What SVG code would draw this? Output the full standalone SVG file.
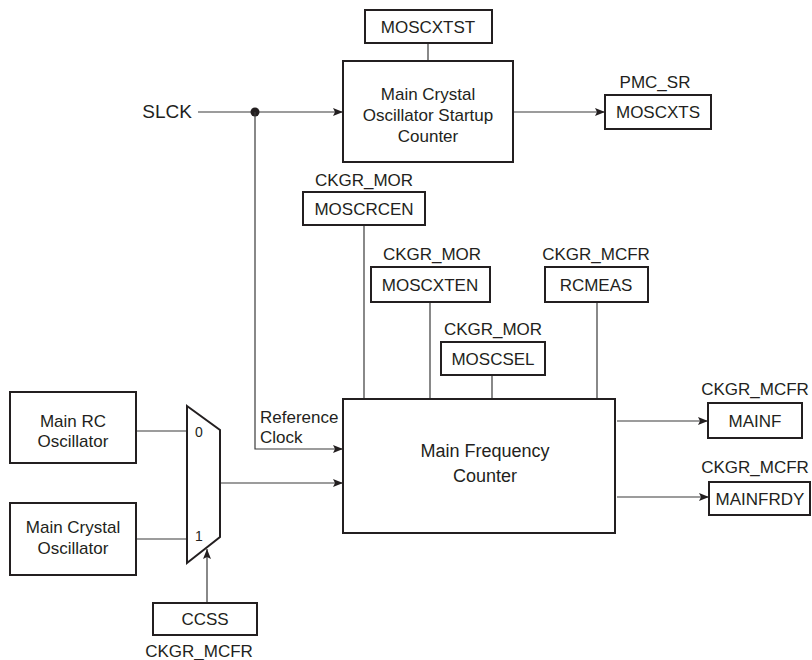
<svg xmlns="http://www.w3.org/2000/svg" width="812" height="660" viewBox="0 0 812 660">
<style>
text{font-family:"Liberation Sans",Arial,sans-serif;font-size:17px;fill:#231f20}
.c{text-anchor:middle}
.box{fill:#fff;stroke:#231f20;stroke-width:2}
.ln{fill:none;stroke:#3a3a3a;stroke-width:1.2}
</style>
<defs>
<marker id="ah" viewBox="0 0 10 8" refX="10" refY="4" markerWidth="10" markerHeight="8" markerUnits="userSpaceOnUse" orient="auto">
<path d="M0,0 L10,4 L0,8 L2,4 Z" fill="#231f20"/>
</marker>
</defs>
<rect width="812" height="660" fill="#fff"/>
<g id="connectors">
<line class="ln" x1="198" y1="112" x2="343" y2="112" marker-end="url(#ah)"/>
<circle cx="255" cy="112" r="4.5" fill="#231f20"/>
<polyline class="ln" points="255,112 255,449 343,449" marker-end="url(#ah)"/>
<line class="ln" x1="428" y1="43" x2="428" y2="61"/>
<line class="ln" x1="513" y1="112" x2="605" y2="112" marker-end="url(#ah)"/>
<line class="ln" x1="364" y1="225" x2="364" y2="399"/>
<line class="ln" x1="430" y1="302" x2="430" y2="399"/>
<line class="ln" x1="492" y1="375" x2="492" y2="399"/>
<line class="ln" x1="597" y1="302" x2="597" y2="399"/>
<line class="ln" x1="617" y1="421" x2="708" y2="421" marker-end="url(#ah)"/>
<line class="ln" x1="617" y1="497" x2="709" y2="497" marker-end="url(#ah)"/>
<line class="ln" x1="136" y1="431" x2="187" y2="431"/>
<line class="ln" x1="136" y1="539" x2="187" y2="539"/>
<line class="ln" x1="220" y1="483" x2="343" y2="483" marker-end="url(#ah)"/>
<line class="ln" x1="207" y1="603" x2="207" y2="549" marker-end="url(#ah)"/>
</g>
<g id="slck"><text x="192" y="118" style="font-size:19px;text-anchor:end">SLCK</text></g>
<g id="moscxtst"><rect class="box" x="365" y="10" width="127" height="33"/><text class="c" x="428" y="33">MOSCXTST</text></g>
<g id="startup"><rect class="box" x="343" y="61" width="170" height="101"/>
<text class="c" x="428" y="100">Main Crystal</text><text class="c" x="428" y="121">Oscillator Startup</text><text class="c" x="428" y="142">Counter</text></g>
<g id="moscxts"><text class="c" x="655" y="88">PMC_SR</text><rect class="box" x="605" y="95" width="106" height="34"/><text class="c" x="658" y="118">MOSCXTS</text></g>
<g id="moscrcen"><text class="c" x="364" y="186">CKGR_MOR</text><rect class="box" x="303" y="192" width="122" height="33"/><text class="c" x="364" y="215">MOSCRCEN</text></g>
<g id="moscxten"><text class="c" x="432" y="260">CKGR_MOR</text><rect class="box" x="371" y="267" width="119" height="35"/><text class="c" x="430" y="291">MOSCXTEN</text></g>
<g id="rcmeas"><text class="c" x="596" y="260">CKGR_MCFR</text><rect class="box" x="545" y="267" width="103" height="35"/><text class="c" x="596" y="291">RCMEAS</text></g>
<g id="moscsel"><text class="c" x="493" y="335">CKGR_MOR</text><rect class="box" x="441" y="342" width="104" height="33"/><text class="c" x="493" y="365">MOSCSEL</text></g>
<g id="mfc"><rect class="box" x="343" y="399" width="272" height="134"/>
<text class="c" x="485" y="457" style="font-size:18px">Main Frequency</text><text class="c" x="485" y="482" style="font-size:18px">Counter</text></g>
<g id="refclk"><text x="260" y="423">Reference</text><text x="260" y="443">Clock</text></g>
<g id="mainf"><text class="c" x="755" y="395">CKGR_MCFR</text><rect class="box" x="708" y="403" width="94" height="35"/><text class="c" x="755" y="427">MAINF</text></g>
<g id="mainfrdy"><text class="c" x="755" y="473">CKGR_MCFR</text><rect class="box" x="709" y="482" width="101" height="33"/><text class="c" x="760" y="505">MAINFRDY</text></g>
<g id="rcosc"><rect class="box" x="10" y="392" width="126" height="71"/><text class="c" x="73" y="427">Main RC</text><text class="c" x="73" y="447">Oscillator</text></g>
<g id="xosc"><rect class="box" x="10" y="503" width="126" height="72"/><text class="c" x="73" y="533">Main Crystal</text><text class="c" x="73" y="554">Oscillator</text></g>
<g id="mux"><polygon class="box" points="187,406 220,430 220,537 187,563"/>
<text x="195" y="437" style="font-size:14px">0</text><text x="195" y="541" style="font-size:14px">1</text></g>
<g id="ccss"><rect class="box" x="153" y="603" width="104" height="32"/><text class="c" x="205" y="625">CCSS</text><text class="c" x="199" y="657">CKGR_MCFR</text></g>
</svg>
